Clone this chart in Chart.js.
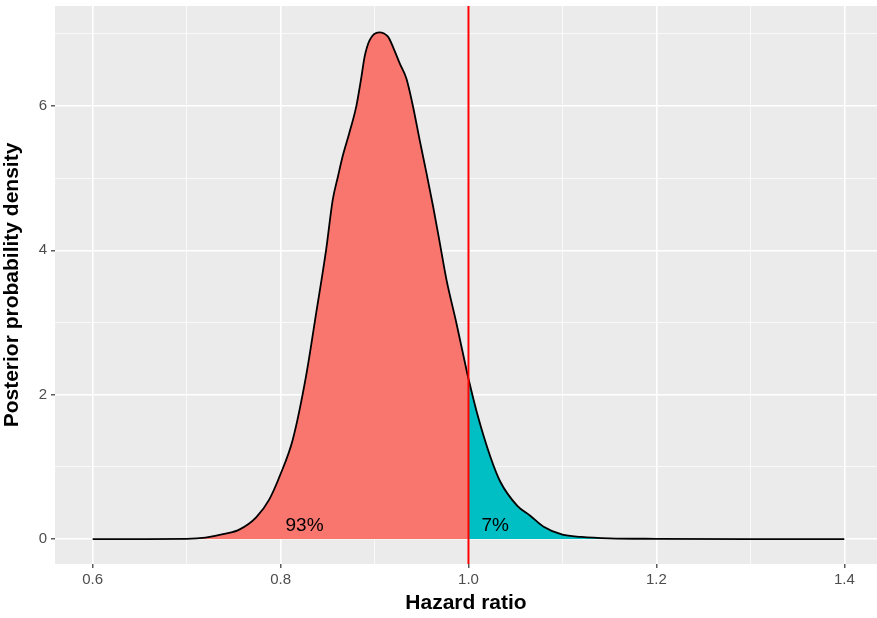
<!DOCTYPE html>
<html>
<head>
<meta charset="utf-8">
<script src="https://cdn.jsdelivr.net/npm/chart.js"></script>
<style>
  html, body { margin: 0; padding: 0; background: #fff; }
  #wrap { width: 877px; height: 618px; }
</style>
</head>
<body>
<div id="wrap"><canvas id="densityChart"></canvas></div>
<script>
// Hazard ratio values (x) and posterior density
const hazardRatio = [0.60, 0.65, 0.70, 0.72, 0.74, 0.756, 0.774, 0.788, 0.799, 0.813, 0.827, 0.838, 0.8485, 0.8555, 0.861, 0.866, 0.873, 0.8805, 0.886, 0.8894, 0.8947, 0.905, 0.9143, 0.9196, 0.9268, 0.9339, 0.941, 0.948, 0.9553, 0.9623, 0.9695, 0.9766, 0.987, 0.9986, 1.00, 1.009, 1.023, 1.034, 1.052, 1.066, 1.080, 1.10, 1.12, 1.15, 1.20, 1.30, 1.40];
const density     = [0.00, 0.00, 0.003, 0.02, 0.07, 0.13, 0.30, 0.55, 0.87, 1.38, 2.25, 3.14, 4.01, 4.70, 5.02, 5.30, 5.62, 5.99, 6.40, 6.68, 6.91, 7.02, 6.96, 6.82, 6.59, 6.38, 5.99, 5.53, 5.07, 4.61, 4.10, 3.59, 3.00, 2.30, 2.22, 1.75, 1.15, 0.79, 0.46, 0.32, 0.17, 0.06, 0.03, 0.01, 0.003, 0.00, 0.00];

const threshold = 1.0;                     // red reference line
const areaLabels = ['93%', '7%'];
const areaLabelX = [0.8255, 1.0285];
const areaLabelY = [0.19, 0.19];

const xTicks = [0.6, 0.8, 1.0, 1.2, 1.4];
const yTicks = [0, 2, 4, 6];

const allPoints = hazardRatio.map((x, i) => ({ x: x, y: density[i] }));
const leftPoints = allPoints.filter(p => p.x <= threshold);
const rightPoints = allPoints.filter(p => p.x >= threshold);

const FONT = '"Liberation Sans", Arial, sans-serif';

function isMajor(v, list) {
    return list.some(t => Math.abs(t - v) < 1e-6);
}

// grey panel behind the plot, like ggplot
const panelPlugin = {
    id: 'panel',
    beforeDraw(chart) {
        const { ctx, chartArea } = chart;
        ctx.save();
        ctx.fillStyle = '#EBEBEB';
        ctx.fillRect(chartArea.left, chartArea.top, chartArea.right - chartArea.left, chartArea.bottom - chartArea.top);
        ctx.restore();
    }
};

// red line at HR = 1 and the percent labels
const overlayPlugin = {
    id: 'overlay',
    afterDatasetsDraw(chart) {
        const { ctx, chartArea, scales } = chart;
        const xs = scales.x, ys = scales.y;
        ctx.save();
        ctx.fillStyle = '#000';
        ctx.font = '19px ' + FONT;
        ctx.textAlign = 'center';
        ctx.textBaseline = 'middle';
        areaLabels.forEach((txt, i) => {
            ctx.fillText(txt, xs.getPixelForValue(areaLabelX[i]), ys.getPixelForValue(areaLabelY[i]));
        });
        const px = xs.getPixelForValue(threshold);
        ctx.strokeStyle = '#FF0000';
        ctx.lineWidth = 2;
        ctx.beginPath();
        ctx.moveTo(px, chartArea.top);
        ctx.lineTo(px, chartArea.bottom);
        ctx.stroke();
        ctx.restore();
    }
};

const ctx = document.getElementById('densityChart').getContext('2d');
new Chart(ctx, {
    type: 'line',
    data: {
        datasets: [
            {
                data: allPoints,
                borderColor: '#000',
                borderWidth: 1.8,
                fill: false,
                pointRadius: 0,
                cubicInterpolationMode: 'monotone',
                order: 0
            },
            {
                data: leftPoints,
                borderWidth: 0,
                borderColor: 'rgba(0,0,0,0)',
                backgroundColor: '#F8766D',
                fill: 'origin',
                pointRadius: 0,
                cubicInterpolationMode: 'monotone',
                order: 1
            },
            {
                data: rightPoints,
                borderWidth: 0,
                borderColor: 'rgba(0,0,0,0)',
                backgroundColor: '#00BFC4',
                fill: 'origin',
                pointRadius: 0,
                cubicInterpolationMode: 'monotone',
                order: 2
            }
        ]
    },
    options: {
        responsive: true,
        maintainAspectRatio: false,
        animation: false,
        layout: { padding: { top: 6, right: 0, left: 0, bottom: 0 } },
        plugins: {
            legend: { display: false },
            tooltip: { enabled: false }
        },
        scales: {
            x: {
                type: 'linear',
                min: 0.5599,
                max: 1.4348,
                afterBuildTicks(scale) {
                    const t = [];
                    for (let v = 0.6; v <= 1.40001; v += 0.1) t.push({ value: Math.round(v * 10) / 10 });
                    scale.ticks = t;
                },
                afterFit(scale) {
                    scale.height = 54;
                    scale.paddingLeft = 0;
                    scale.paddingRight = 0;
                },
                border: { display: false },
                grid: {
                    color: '#FFFFFF',
                    lineWidth: c => isMajor(c.tick.value, xTicks) ? 1.6 : 0.7,
                    drawTicks: true,
                    tickLength: 4,
                    tickColor: c => isMajor(c.tick.value, xTicks) ? '#333333' : 'rgba(0,0,0,0)',
                    tickWidth: 1.2
                },
                ticks: {
                    autoSkip: false,
                    maxRotation: 0,
                    color: '#4D4D4D',
                    font: { family: FONT, size: 15 },
                    padding: 3,
                    callback: v => isMajor(v, xTicks) ? v.toFixed(1) : ''
                },
                title: {
                    display: true,
                    text: 'Hazard ratio',
                    color: '#000',
                    font: { family: FONT, size: 21, weight: 'bold' },
                    padding: { top: 0, bottom: 2 }
                }
            },
            y: {
                type: 'linear',
                min: -0.346,
                max: 7.385,
                afterBuildTicks(scale) {
                    const t = [];
                    for (let v = 0; v <= 7; v += 1) t.push({ value: v });
                    scale.ticks = t;
                },
                afterFit(scale) {
                    scale.width = 55;
                    scale.paddingTop = 0;
                    scale.paddingBottom = 0;
                },
                border: { display: false },
                grid: {
                    color: '#FFFFFF',
                    lineWidth: c => isMajor(c.tick.value, yTicks) ? 1.6 : 0.7,
                    drawTicks: true,
                    tickLength: 4,
                    tickColor: c => isMajor(c.tick.value, yTicks) ? '#333333' : 'rgba(0,0,0,0)',
                    tickWidth: 1.2
                },
                ticks: {
                    autoSkip: false,
                    color: '#4D4D4D',
                    font: { family: FONT, size: 15 },
                    padding: 4,
                    callback: v => isMajor(v, yTicks) ? String(v) : ''
                },
                title: {
                    display: true,
                    text: 'Posterior probability density',
                    color: '#000',
                    font: { family: FONT, size: 21, weight: 'bold' },
                    padding: { top: 0, bottom: 3 }
                }
            }
        }
    },
    plugins: [panelPlugin, overlayPlugin]
});
</script>
</body>
</html>
